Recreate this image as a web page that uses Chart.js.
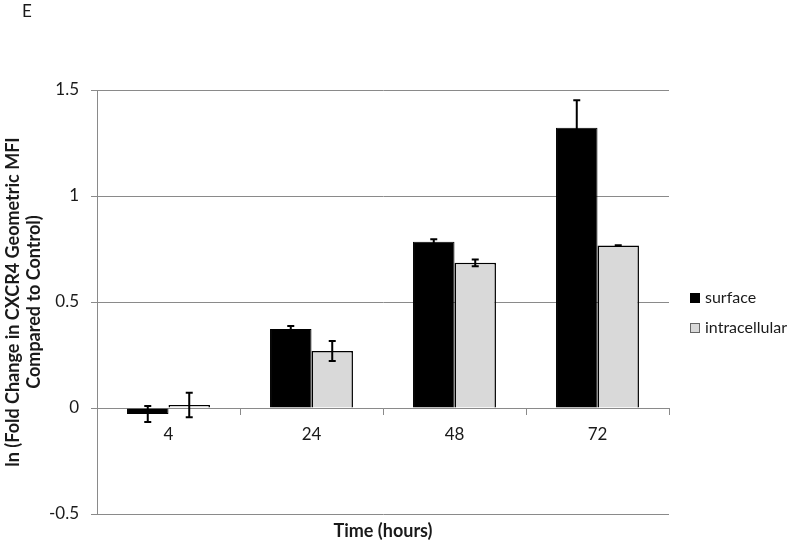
<!DOCTYPE html>
<html>
<head>
<meta charset="utf-8">
<script src="https://cdn.jsdelivr.net/npm/chart.js@4.4.1/dist/chart.umd.min.js"></script>
<style>
  html, body { margin: 0; padding: 0; background: #ffffff; }
  canvas { display: block; }
</style>
</head>
<body>
<canvas id="c" width="800" height="542"></canvas>
<script>
// ---- data ----
const categories = ['4', '24', '48', '72'];
const surface = [-0.028, 0.373, 0.784, 1.322];
const surfaceErr = [0.038, 0.014, 0.012, 0.13];
const intracellular = [0.014, 0.269, 0.685, 0.766];
const intracellularErr = [0.058, 0.047, 0.016, 0.002];
const seriesNames = ['surface', 'intracellular'];
const yTicks = [-0.5, 0, 0.5, 1, 1.5];
const panelLabel = 'E';
const xTitle = 'Time (hours)';
const yTitle = ['ln (Fold Change in CXCR4 Geometric MFI', 'Compared to Control)'];

const FONT = 'Lato, "Open Sans", sans-serif';
const TEXT = '#1a1a1a';
const GRID = '#8a8a8a';

const errorBars = {
  id: 'errorBars',
  afterDatasetsDraw(chart) {
    const ctx = chart.ctx;
    const ys = chart.scales.y;
    chart.data.datasets.forEach((ds, i) => {
      const meta = chart.getDatasetMeta(i);
      meta.data.forEach((bar, j) => {
        const v = ds.data[j], e = ds.errors[j];
        const x = bar.x;
        const t = ys.getPixelForValue(v + e);
        const b = ys.getPixelForValue(v - e);
        ctx.save();
        ctx.strokeStyle = '#000';
        ctx.lineWidth = 2;
        ctx.beginPath();
        ctx.moveTo(x, t); ctx.lineTo(x, b);
        ctx.moveTo(x - 3.5, t); ctx.lineTo(x + 3.5, t);
        ctx.moveTo(x - 3.5, b); ctx.lineTo(x + 3.5, b);
        ctx.stroke();
        ctx.restore();
      });
    });
  }
};

const extras = {
  id: 'extras',
  afterDraw(chart) {
    const ctx = chart.ctx;
    ctx.save();
    ctx.fillStyle = TEXT;
    ctx.font = '17px ' + FONT;
    ctx.textBaseline = 'middle';
    ctx.textAlign = 'left';
    ctx.fillText(panelLabel, 22, 12);
    // legend
    ctx.font = '16px ' + FONT;
    const ca = chart.chartArea;
    const lx = ca.right + 21;
    const ly = [298, 328];
    chart.data.datasets.forEach((ds, i) => {
      ctx.fillStyle = ds.backgroundColor;
      ctx.fillRect(lx, ly[i] - 5, 10, 10);
      ctx.strokeStyle = i === 0 ? '#000' : '#666';
      ctx.lineWidth = 1;
      ctx.strokeRect(lx + 0.5, ly[i] - 4.5, 9, 9);
      ctx.fillStyle = TEXT;
      ctx.fillText(ds.label, lx + 15, ly[i]);
    });
    ctx.restore();
  }
};

new Chart(document.getElementById('c'), {
  type: 'bar',
  data: {
    labels: categories,
    datasets: [
      { label: seriesNames[0], data: surface, errors: surfaceErr,
        backgroundColor: '#000000', borderColor: '#000000', borderWidth: 1,
        categoryPercentage: 0.58, barPercentage: 1.0 },
      { label: seriesNames[1], data: intracellular, errors: intracellularErr,
        backgroundColor: '#d9d9d9', borderColor: '#000000', borderWidth: 1.5,
        categoryPercentage: 0.58, barPercentage: 1.0 }
    ]
  },
  options: {
    responsive: false,
    animation: false,
    layout: { padding: { left: 0, right: 131, top: 90, bottom: 0 } },
    plugins: {
      legend: { display: false },
      tooltip: { enabled: false },
      title: { display: false }
    },
    scales: {
      y: {
        min: -0.5, max: 1.5,
        afterBuildTicks: (s) => { s.ticks = yTicks.map(v => ({ value: v })); },
        afterFit: (s) => { s.width = 97; },
        ticks: { color: TEXT, font: { family: FONT, size: 17 }, padding: 12,
                 callback: (v) => String(v) },
        grid: { color: GRID, lineWidth: 1, tickLength: 6, drawTicks: true },
        border: { display: true, color: GRID, width: 1 },
        title: { display: true, text: yTitle, color: TEXT,
                 font: { family: FONT, size: 18, weight: 'bold', lineHeight: 1.17 },
                 padding: { top: 3, bottom: 0 } }
      },
      x: {
        position: { y: 0 },
        offset: true,
        ticks: { color: TEXT, font: { family: FONT, size: 17 }, padding: 10 },
        grid: { display: true, drawOnChartArea: false, drawTicks: true, tickLength: 6,
                color: GRID, offset: true },
        border: { display: true, color: GRID, width: 1 }
      },
      xb: {
        type: 'category',
        position: 'bottom',
        offset: true,
        afterFit: (s) => { s.height = 28; },
        ticks: { display: false },
        grid: { display: false, drawTicks: false },
        border: { display: false },
        title: { display: true, text: xTitle, color: TEXT,
                 font: { family: FONT, size: 18, weight: 'bold', lineHeight: 1.2 },
                 padding: { top: 0, bottom: 0 } }
      }
    }
  },
  plugins: [errorBars, extras]
});
</script>
</body>
</html>
